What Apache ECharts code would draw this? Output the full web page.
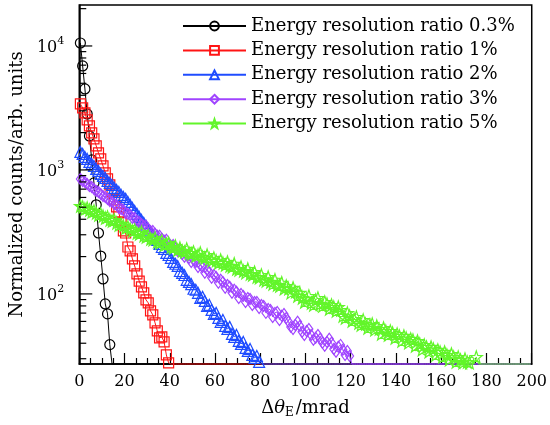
<!DOCTYPE html>
<html>
<head>
<meta charset="utf-8">
<script src="https://cdn.jsdelivr.net/npm/echarts@6/dist/echarts.min.js"></script>
<style>
  html, body { margin: 0; padding: 0; background: #fff; }
  #chart { width: 550px; height: 425px; }
</style>
</head>
<body>
<div id="chart"></div>
<script>
// Angular spread histograms, 1 mrad bins from 0 to 200 mrad.
// Bins past the end of each array (and explicit 0 entries) are empty.
const N_BINS = 200;
const BIN_WIDTH = 1;
const Y_MIN = 27.2;
const Y_MAX = 21400;

const seriesNames = [
  'Energy resolution ratio 0.3%',
  'Energy resolution ratio 1%',
  'Energy resolution ratio 2%',
  'Energy resolution ratio 3%',
  'Energy resolution ratio 5%'
];

const counts03 = [10570, 6900, 4500, 2830, 1880, 1205, 785, 523, 310, 202, 132, 83, 69, 39];

const counts1 = [
  3405, 3162, 2884, 2531, 2264, 1987, 1778, 1563, 1371, 1227,
  1077, 946, 846, 757, 665, 573, 503, 450, 381, 322,
  310, 239, 222, 192, 168, 145, 127, 114, 102, 89.5,
  84.6, 72.9, 67.7, 58.4, 50.3, 44.2, 45.0, 41.0, 32.2, 27.8
];

const counts2 = [
  1397, 1346, 1273, 1226, 1160, 1118, 1077, 1019, 982, 928,
  895, 862, 815, 786, 757, 716, 690, 665, 629, 606,
  584, 552, 522, 494, 467, 442, 418, 395, 374, 354,
  334, 316, 299, 283, 273, 253, 239, 231, 214, 206,
  195, 181, 175, 168, 153, 148, 142, 130, 125, 120,
  110, 108, 102, 92.8, 94.6, 87.8, 80.0, 81.5, 74.3, 69.0,
  70.3, 64.0, 59.5, 61.7, 55.2, 52.2, 54.2, 47.6, 45.0, 46.7,
  41.8, 39.5, 41.0, 36.7, 34.7, 36.0, 32.2, 30.5, 31.6, 28.3
];

const counts3 = [
  846, 815, 800, 771, 743, 729, 703, 677, 665, 640,
  617, 606, 584, 562, 552, 532, 522, 494, 485, 476,
  450, 442, 434, 410, 410, 388, 381, 367, 354, 354,
  334, 322, 322, 305, 294, 294, 278, 268, 273, 253,
  244, 248, 231, 222, 226, 210, 199, 206, 195, 181,
  188, 181, 165, 171, 165, 148, 156, 150, 135, 142,
  137, 123, 130, 125, 112, 118, 114, 102, 108, 104,
  92.8, 100, 96.4, 86.2, 92.8, 91.1, 81.5, 86.2, 86.2, 77.1,
  81.5, 80.0, 70.3, 75.7, 74.3, 65.2, 70.3, 71.6, 61.7, 66.5,
  69.0, 64.0, 59.5, 54.2, 52.2, 56.2, 59.5, 55.2, 49.4, 46.7,
  50.3, 52.2, 46.7, 42.6, 44.2, 46.7, 43.4, 40.3, 38.1, 41.0,
  43.4, 40.3, 36.0, 34.1, 37.4, 38.8, 35.4, 32.2, 34.7, 31.6
];

const counts5 = [
  513, 503, 485, 494, 476, 459, 467, 450, 434, 442,
  426, 410, 418, 395, 388, 395, 374, 360, 367, 354,
  341, 347, 334, 322, 328, 310, 305, 316, 294, 288,
  294, 278, 273, 283, 263, 258, 268, 248, 253, 258,
  239, 235, 244, 226, 235, 222, 218, 231, 214, 210,
  218, 203, 206, 214, 199, 195, 206, 192, 185, 195,
  185, 178, 188, 178, 171, 181, 168, 165, 175, 159,
  156, 165, 153, 148, 159, 145, 142, 150, 137, 135,
  142, 130, 127, 137, 125, 120, 130, 118, 116, 123,
  110, 116, 110, 102, 112, 104, 96.4, 102, 92.8, 86.2,
  91.1, 96.4, 84.6, 81.5, 89.5, 92.8, 83.1, 80.0, 86.2, 83.1,
  75.7, 81.5, 78.6, 72.9, 78.6, 74.3, 66.5, 64.0, 70.3, 66.5,
  60.6, 62.9, 65.2, 58.4, 56.2, 61.7, 57.3, 53.2, 56.2, 57.3,
  51.3, 55.2, 52.2, 47.6, 53.2, 50.3, 46.7, 50.3, 48.5, 44.2,
  47.6, 45.9, 41.8, 45.9, 44.2, 40.3, 43.4, 42.6, 38.1, 41.8,
  39.5, 35.4, 38.8, 37.4, 34.1, 37.4, 36.0, 32.2, 35.4, 34.1,
  31.0, 34.1, 32.2, 29.4, 32.8, 31.0, 28.3, 31.0, 29.4, 27.8,
  29.9, 28.3, 27.8, 0, 0, 31.0
];

const xTicks = { min: 0, max: 200, step: 20 };

const FONT = 'DejaVu Serif';
const STAR = 'path://M0,-10L2.35,-3.24L9.51,-3.09L3.8,1.24L5.88,8.09L0,4L-5.88,8.09L-3.8,1.24L-9.51,-3.09L-2.35,-3.24Z';

const styles = [
  { color: '#000000', symbol: 'circle',   size: 10 },
  { color: '#ff1414', symbol: 'rect',     size: 10 },
  { color: '#1f4cff', symbol: 'triangle', size: 11 },
  { color: '#a044ff', symbol: 'diamond',  size: [8, 11] },
  { color: '#62f52a', symbol: STAR,       size: 12 }
];
const allCounts = [counts03, counts1, counts2, counts3, counts5];

// Empty bins sit on the lower frame edge, without a marker.
function toPoints(counts) {
  const pts = [];
  for (let i = 0; i < N_BINS; i++) {
    const x = (i + 0.5) * BIN_WIDTH;
    const v = i < counts.length ? counts[i] : 0;
    if (v > 0) pts.push([x, v]);
    else pts.push({ value: [x, Y_MIN], symbol: 'none' });
  }
  return pts;
}

const series = allCounts.map((c, k) => ({
  name: seriesNames[k],
  type: 'line',
  data: toPoints(c),
  symbol: styles[k].symbol,
  symbolSize: styles[k].size,
  showSymbol: true,
  showAllSymbol: true,
  clip: false,
  lineStyle: { color: styles[k].color, width: 1 },
  itemStyle: { color: 'rgba(0,0,0,0)', borderColor: styles[k].color, borderWidth: 1.2 },
  emphasis: { disabled: true },
  z: 2 + k
}));

const chart = echarts.init(document.getElementById('chart'), null, { renderer: 'canvas' });

chart.setOption({
  animation: false,
  backgroundColor: '#fff',
  grid: {
    left: 76, right: 17, top: 5, bottom: 61,
    show: true, borderColor: '#000', borderWidth: 1.5, backgroundColor: 'transparent'
  },
  legend: {
    data: seriesNames,
    orient: 'vertical',
    left: 177, top: 11,
    itemWidth: 63, itemHeight: 11, itemGap: 4.4,
    selectedMode: false,
    textStyle: { fontFamily: FONT, fontSize: 18, color: '#000', lineHeight: 20 }
  },
  xAxis: {
    type: 'value',
    min: xTicks.min, max: xTicks.max, interval: xTicks.step,
    name: '{d|Δ}{t|θ}{s|E}{d|/mrad}',
    nameLocation: 'middle', nameGap: 33,
    nameTextStyle: {
      rich: {
        d: { fontFamily: FONT, fontSize: 18, color: '#000', lineHeight: 22 },
        t: { fontFamily: FONT, fontSize: 18, fontStyle: 'italic', color: '#000', lineHeight: 22 },
        s: { fontFamily: FONT, fontSize: 12, color: '#000', lineHeight: 12, verticalAlign: 'bottom', padding: [0, 2, 0, 0] }
      }
    },
    axisLine: { show: true, lineStyle: { color: '#000', width: 1.5 } },
    axisTick: { show: true, inside: true, length: 11, lineStyle: { color: '#000', width: 1.2 } },
    minorTick: { show: true, splitNumber: 4, length: 6, lineStyle: { color: '#000', width: 1.2 } },
    axisLabel: { fontFamily: FONT, fontSize: 16, color: '#000', margin: 10 },
    splitLine: { show: false }
  },
  yAxis: {
    type: 'log', logBase: 10,
    min: Y_MIN, max: Y_MAX,
    name: 'Normalized counts/arb. units',
    nameLocation: 'middle', nameGap: 50, nameRotate: 90,
    nameTextStyle: { fontFamily: FONT, fontSize: 18, color: '#000' },
    axisLine: { show: true, lineStyle: { color: '#000', width: 1.5 } },
    axisTick: { show: false },
    minorTick: { show: false },
    splitLine: { show: false },
    axisLabel: {
      margin: 15,
      showMinLabel: false, showMaxLabel: false,
      formatter: function (v) {
        const e = Math.round(Math.log10(v));
        if (Math.abs(Math.log10(v) - e) > 1e-6) return '';
        return '{b|10}{p|' + e + '}';
      },
      rich: {
        b: { fontFamily: FONT, fontSize: 16, color: '#000', lineHeight: 20, verticalAlign: 'bottom' },
        p: { fontFamily: FONT, fontSize: 11, color: '#000', lineHeight: 11, verticalAlign: 'top' }
      }
    }
  },
  series: series
});

// Logarithmic tick marks on the left frame edge (1..9 per decade).
const x0 = chart.convertToPixel({ xAxisIndex: 0 }, 0);
const tickEls = [];
for (let e = 1; e <= 4; e++) {
  for (let m = 1; m <= 9; m++) {
    const v = m * Math.pow(10, e);
    if (v < Y_MIN || v > Y_MAX) continue;
    const y = chart.convertToPixel({ yAxisIndex: 0 }, v);
    const len = m === 1 ? 13 : 7;
    tickEls.push({
      type: 'line', silent: true, z: 10,
      shape: { x1: x0, y1: y, x2: x0 + len, y2: y },
      style: { stroke: '#000', lineWidth: 1.2 }
    });
  }
}
chart.setOption({ graphic: tickEls });
</script>
</body>
</html>
